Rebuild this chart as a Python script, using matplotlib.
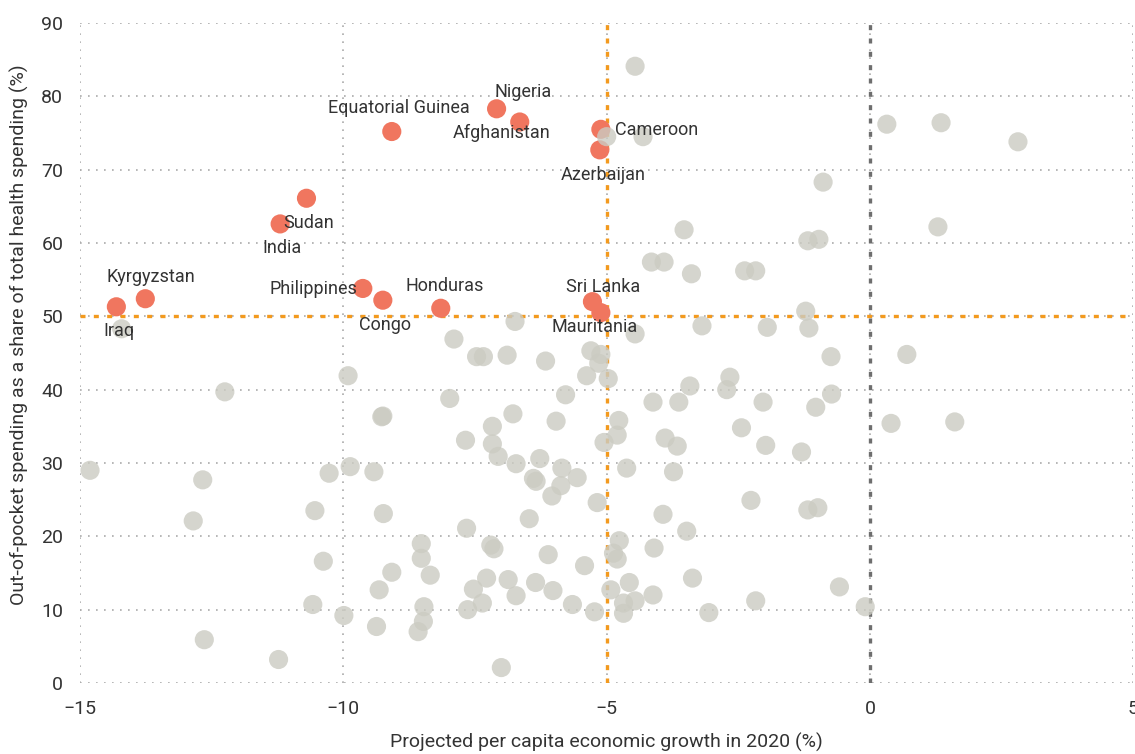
import matplotlib.pyplot as plt

## countries highlighted in red
hl_names = ["Iraq", "Kyrgyzstan", "India", "Sudan", "Equatorial Guinea", "Philippines",
            "Congo", "Nigeria", "Afghanistan", "Cameroon", "Azerbaijan", "Honduras",
            "Sri Lanka", "Mauritania"]
hl_growth = [-14.31, -13.76, -11.20, -10.70, -9.08, -9.63, -9.25, -7.09, -6.65, -5.11,
             -5.13, -8.15, -5.27, -5.11]
hl_oop = [51.3, 52.4, 62.6, 66.1, 75.2, 53.8, 52.2, 78.3, 76.5, 75.5, 72.7, 51.1, 52.0, 50.5]
# where each name sits (centre of the text)
lab_x = [-14.27, -13.65, -11.16, -10.65, -8.95, -10.57, -9.21, -6.59, -7.0, -4.05, -5.06,
         -8.08, -5.06, -5.22]
lab_y = [48.0, 55.4, 59.3, 62.7, 78.4, 53.7, 48.8, 80.6, 75.0, 75.4, 69.3, 54.2, 54.0, 48.6]

## all other countries
other_growth = [-4.46, -5.0, -4.31, 0.32, 1.35, 2.81, -0.89, 1.29, -1.18, -0.97, -3.53,
                -4.15, -3.91, -3.39, -2.38, -2.17, -1.22, -1.95, -1.16, -0.74, 0.70, -3.19,
                -4.46, -6.74, -7.90, -7.47, -7.34, -6.89, -6.16, -5.30, -5.11, -5.15, -5.38,
                -4.97, -2.66, -2.72, -3.42, -7.98, -5.78, -4.12, -3.63, -2.03, -9.25, -6.78,
                -7.17, -4.77, -5.96, -2.44, -7.68, -4.80, -5.05, -7.17, -3.89, -3.66, -1.98,
                -7.06, -6.72, -6.27, -5.85, -4.62, -3.73, -9.42, -6.39, -6.34, -5.87, -5.56,
                -6.04, -2.26, -5.18, -9.24, -6.47, -3.93, -1.18, -0.99, -3.48, -7.66, -8.52,
                -8.52, -7.20, -7.14, -6.11, -4.76, -4.87, -4.80, -4.10, -5.42, -9.08, -8.35,
                -9.32, -3.37, -7.53, -7.28, -6.87, -6.35, -6.02, -4.92, -4.57, -4.12, -6.72,
                -2.17, -4.46, -4.68, -4.68, -8.47, -8.48, -8.58, -7.64, -7.36, -5.65, -5.23,
                -3.06, -7.00, -9.37, -1.03, -0.73, 0.40, 1.61, -1.30, -0.58, -0.09, -12.25,
                -9.91, -9.27, -14.81, -12.67, -12.85, -10.27, -9.87, -10.54, -10.38, -10.58,
                -9.99, -12.64, -11.23, -14.21]
other_oop = [84.1, 74.5, 74.5, 76.2, 76.4, 73.8, 68.3, 62.2, 60.3, 60.5, 61.8,
             57.4, 57.4, 55.8, 56.2, 56.2, 50.7, 48.5, 48.4, 44.5, 44.8, 48.7,
             47.6, 49.3, 46.9, 44.5, 44.5, 44.7, 43.9, 45.3, 44.8, 43.6, 41.9,
             41.5, 41.7, 40.0, 40.5, 38.8, 39.3, 38.3, 38.3, 38.3, 36.4, 36.7,
             35.0, 35.8, 35.7, 34.8, 33.1, 33.8, 32.8, 32.6, 33.4, 32.3, 32.4,
             30.9, 29.9, 30.6, 29.3, 29.3, 28.8, 28.8, 27.9, 27.5, 26.9, 28.0,
             25.5, 24.9, 24.6, 23.1, 22.4, 23.0, 23.6, 23.9, 20.7, 21.1, 19.0,
             17.0, 18.8, 18.3, 17.5, 19.4, 17.7, 16.9, 18.4, 16.0, 15.1, 14.7,
             12.7, 14.3, 12.8, 14.3, 14.1, 13.7, 12.6, 12.7, 13.7, 12.0, 11.9,
             11.2, 11.2, 10.9, 9.5, 10.4, 8.4, 7.0, 10.0, 10.9, 10.7, 9.7,
             9.6, 2.1, 7.7, 37.6, 39.4, 35.4, 35.6, 31.5, 13.1, 10.4, 39.7,
             41.9, 36.3, 29.0, 27.7, 22.1, 28.6, 29.5, 23.5, 16.6, 10.7,
             9.2, 5.9, 3.2, 48.3]

xticks = [-15, -10, -5, 0, 5]
yticks = [0, 10, 20, 30, 40, 50, 60, 70, 80, 90]

plt.rcParams['font.family'] = ['Roboto', 'DejaVu Sans']
txt = '#333333'

fig = plt.figure(figsize=(11.35, 7.54), dpi=100)
ax = fig.add_axes([0.0705, 0.0942, 0.928, 0.8753])

## reference lines
ax.axvline(-5, color='#f39a1e', lw=2.4, ls=(0, (1.5, 2.5)), zorder=2)
ax.axhline(50, color='#f39a1e', lw=2.4, ls=(0, (1.5, 2.5)), zorder=2)
ax.axvline(0, color='#6e6e6e', lw=2.4, ls=(0, (1.5, 2.5)), zorder=2)

ax.scatter(hl_growth, hl_oop, s=190, color='#f0765f', edgecolor='none', zorder=3)
ax.scatter(other_growth, other_oop, s=190, color='#cbcbc2', alpha=0.8,
           edgecolor='none', zorder=3)

for name, tx, ty in zip(hl_names, lab_x, lab_y):
    ax.text(tx, ty, name, ha='center', va='center', fontsize=13, color=txt, zorder=4)

ax.set_xlim(-15, 5)
ax.set_ylim(0, 90)
ax.set_xticks(xticks)
ax.set_yticks(yticks)
ax.set_xticklabels(['\u221215', '\u221210', '\u22125', '0', '5'])
ax.tick_params(length=0, labelsize=14, labelcolor=txt, pad=12)
ax.grid(True, color='#aaaaaa', lw=1.2, ls=(0, (1, 3.8)), zorder=1)
for sp in ax.spines.values():
    sp.set_visible(False)

ax.set_xlabel('Projected per capita economic growth in 2020 (%)', fontsize=14, color=txt)
ax.set_ylabel('Out-of-pocket spending as a share of total health spending (%)',
              fontsize=14, color=txt)
ax.xaxis.set_label_coords(0.50, -0.076)
ax.yaxis.set_label_coords(-0.048, 0.527)

fig.savefig('out.png', dpi=100)
